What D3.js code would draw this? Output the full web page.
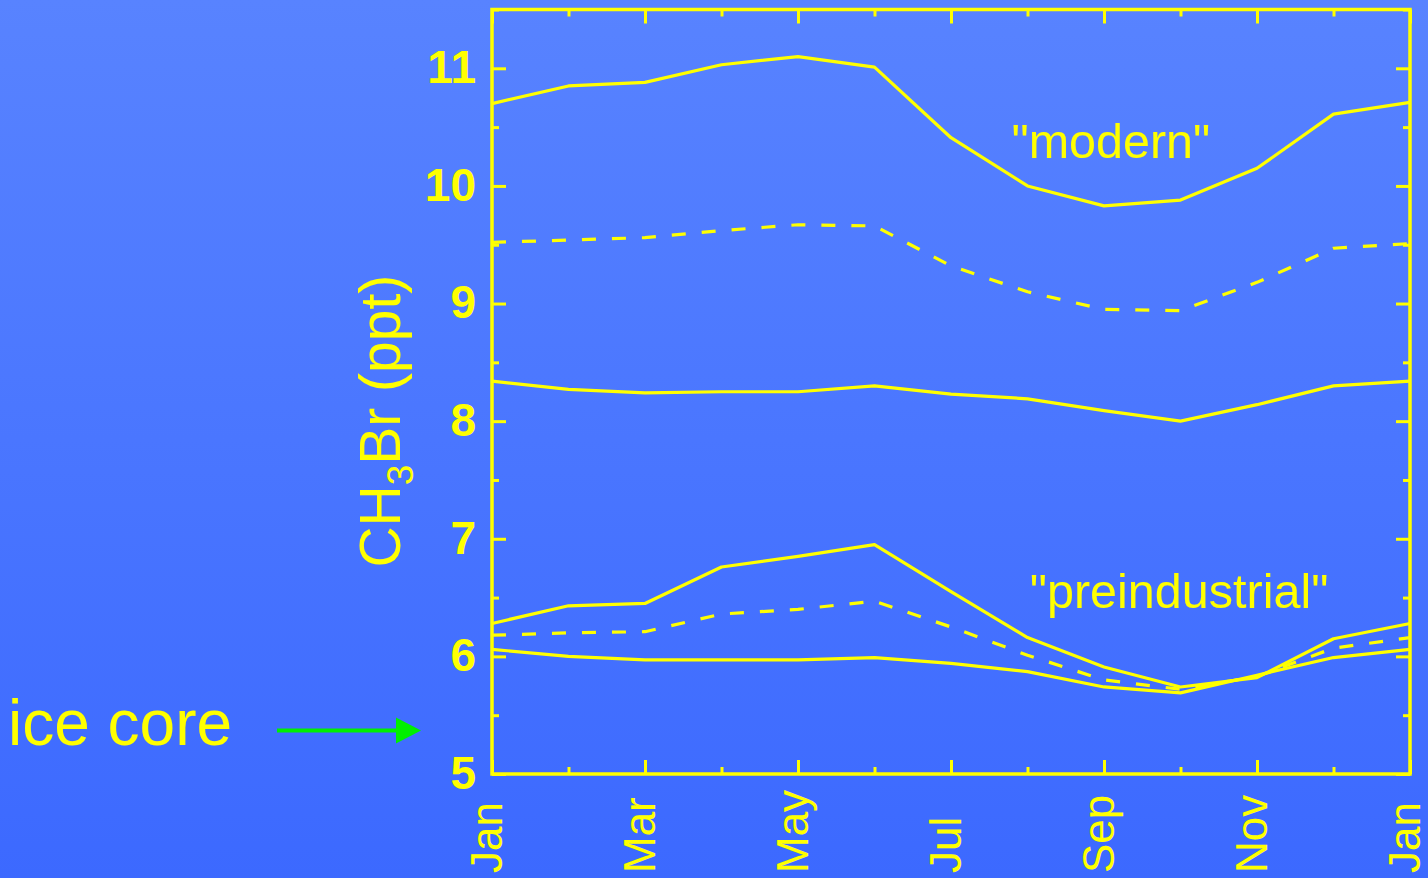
<!DOCTYPE html>
<html>
<head>
<meta charset="utf-8">
<script src="https://cdn.jsdelivr.net/npm/d3@7"></script>
<style>
  html, body { margin: 0; padding: 0; overflow: hidden; }
  text { font-family: "Liberation Sans", Arial, sans-serif; }
</style>
</head>
<body>
<div id="chart"></div>
<script>
// month index 0..12 (Jan .. Jan)
var months = d3.range(0, 13)
var monthLabels = ["Jan", "Mar", "May", "Jul", "Sep", "Nov", "Jan"]

// CH3Br (ppt)
var modernHigh = [10.70, 10.85, 10.88, 11.03, 11.10, 11.01, 10.41, 10.00, 9.83, 9.88, 10.15, 10.61, 10.71]
var modernMid  = [9.52, 9.54, 9.56, 9.62, 9.67, 9.66, 9.32, 9.10, 8.95, 8.94, 9.18, 9.47, 9.51]
var modernLow  = [8.34, 8.27, 8.24, 8.25, 8.25, 8.30, 8.23, 8.19, 8.09, 8.00, 8.14, 8.30, 8.34]
var preHigh    = [6.28, 6.43, 6.45, 6.76, 6.85, 6.95, 6.55, 6.16, 5.91, 5.74, 5.82, 6.15, 6.28]
var preMid     = [6.18, 6.20, 6.21, 6.36, 6.40, 6.47, 6.25, 6.01, 5.80, 5.72, 5.83, 6.07, 6.16]
var preLow     = [6.06, 6.00, 5.97, 5.97, 5.97, 5.99, 5.94, 5.87, 5.74, 5.69, 5.84, 5.99, 6.06]
var iceCore = 5.37

var yMajor = [5, 6, 7, 8, 9, 10, 11]
var yMinor = [5.5, 6.5, 7.5, 8.5, 9.5, 10.5, 11.5]

var series = [
  { values: modernHigh, dashed: false },
  { values: modernMid, dashed: true },
  { values: modernLow, dashed: false },
  { values: preHigh, dashed: false },
  { values: preMid, dashed: true },
  { values: preLow, dashed: false }
]

var width = 1428, height = 878
var yellow = "#ffff00"

var svg = d3.select("#chart").append("svg")
    .attr("width", width)
    .attr("height", height)

var grad = svg.append("defs").append("linearGradient")
    .attr("id", "bg")
    .attr("x1", 0).attr("y1", 0).attr("x2", 0).attr("y2", 1)
grad.append("stop").attr("offset", 0).attr("stop-color", "#5883ff")
grad.append("stop").attr("offset", 1).attr("stop-color", "#3c69ff")

svg.append("rect")
    .attr("width", width)
    .attr("height", height)
    .attr("fill", "url(#bg)")

var x = d3.scaleLinear().domain([0, 12]).range([492, 1410])
var y = d3.scaleLinear().domain([5, 11.5]).range([774, 9.5])

var majorX = months.filter(function (d) { return d % 2 == 0 })
var minorX = months.filter(function (d) { return d % 2 == 1 })

function styleAxis(g) {
  g.select(".domain").remove()
  g.selectAll("line").attr("stroke", yellow).attr("stroke-width", 3)
}

// left axis with labels
svg.append("g")
    .attr("transform", "translate(" + x(0) + ",0)")
    .call(d3.axisLeft(y).tickValues(yMajor).tickSize(-14).tickPadding(16).tickFormat(d3.format("d")))
    .call(styleAxis)
    .call(function (g) {
      g.selectAll("text")
        .attr("fill", yellow)
        .attr("font-size", 46)
        .attr("font-weight", "bold")
        .attr("dy", "0.31em")
    })

svg.append("g")
    .attr("transform", "translate(" + x(0) + ",0)")
    .call(d3.axisLeft(y).tickValues(yMinor).tickSize(-7).tickFormat(""))
    .call(styleAxis)

// right axis
svg.append("g")
    .attr("transform", "translate(" + x(12) + ",0)")
    .call(d3.axisRight(y).tickValues(yMajor).tickSize(-14).tickFormat(""))
    .call(styleAxis)
svg.append("g")
    .attr("transform", "translate(" + x(12) + ",0)")
    .call(d3.axisRight(y).tickValues(yMinor).tickSize(-7).tickFormat(""))
    .call(styleAxis)

// bottom and top axes
;[[d3.axisBottom, y(5)], [d3.axisTop, y(11.5)]].forEach(function (a) {
  svg.append("g")
      .attr("transform", "translate(0," + a[1] + ")")
      .call(a[0](x).tickValues(majorX).tickSize(-14).tickFormat(""))
      .call(styleAxis)
  svg.append("g")
      .attr("transform", "translate(0," + a[1] + ")")
      .call(a[0](x).tickValues(minorX).tickSize(-7).tickFormat(""))
      .call(styleAxis)
})

// frame
svg.append("rect")
    .attr("x", x(0))
    .attr("y", y(11.5))
    .attr("width", x(12) - x(0))
    .attr("height", y(5) - y(11.5))
    .attr("fill", "none")
    .attr("stroke", yellow)
    .attr("stroke-width", 3.5)

// month labels, rotated
svg.append("g").selectAll("text")
    .data(majorX)
    .join("text")
    .attr("transform", function (d) { return "translate(" + x(d) + ",873) rotate(-90)" })
    .attr("dy", "0.22em")
    .attr("text-anchor", "start")
    .attr("fill", yellow)
    .attr("font-size", 44)
    .text(function (d, i) { return monthLabels[i] })

// lines
var line = d3.line()
    .x(function (d, i) { return x(months[i]) })
    .y(function (d) { return y(d) })

svg.append("g").selectAll("path")
    .data(series)
    .join("path")
    .attr("d", function (d) { return line(d.values) })
    .attr("fill", "none")
    .attr("stroke", yellow)
    .attr("stroke-width", 3.2)
    .attr("stroke-linejoin", "round")
    .attr("stroke-dasharray", function (d) { return d.dashed ? "14,16" : null })

// y title
var title = svg.append("text")
    .attr("transform", "translate(400," + y(8.0) + ") rotate(-90)")
    .attr("text-anchor", "middle")
    .attr("fill", yellow)
    .attr("font-size", 57)
title.append("tspan").text("CH")
title.append("tspan").attr("font-size", 37).attr("dy", 13).text("3")
title.append("tspan").attr("dy", -13).text("Br (ppt)")

// annotations
svg.append("text")
    .attr("x", x(6.79))
    .attr("y", y(10.24))
    .attr("fill", yellow)
    .attr("font-size", 48.5)
    .text("\"modern\"")

svg.append("text")
    .attr("x", x(7.03))
    .attr("y", y(6.41))
    .attr("fill", yellow)
    .attr("font-size", 48.5)
    .text("\"preindustrial\"")

// ice core marker
svg.append("text")
    .attr("x", 8)
    .attr("y", 745)
    .attr("fill", yellow)
    .attr("font-size", 64)
    .text("ice core")

svg.append("line")
    .attr("x1", 277)
    .attr("x2", 398)
    .attr("y1", y(iceCore))
    .attr("y2", y(iceCore))
    .attr("stroke", "#00f000")
    .attr("stroke-width", 4)

svg.append("path")
    .attr("d", d3.line()([[396, y(iceCore) - 13], [421, y(iceCore)], [396, y(iceCore) + 13]]) + "Z")
    .attr("fill", "#00f000")
</script>
</body>
</html>
